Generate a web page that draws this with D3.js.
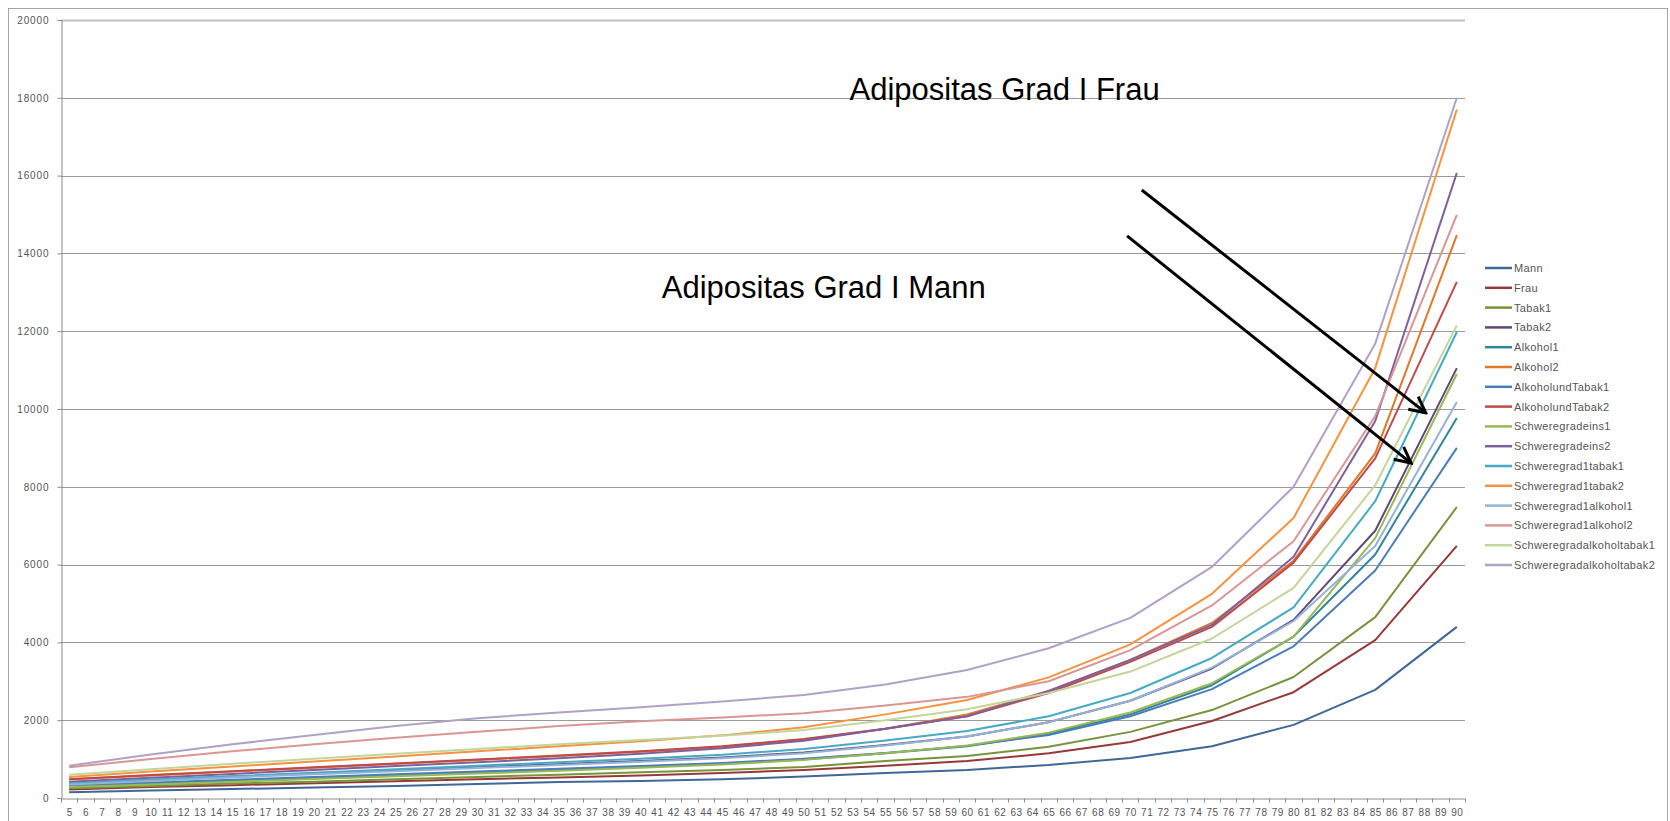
<!DOCTYPE html>
<html>
<head>
<meta charset="utf-8">
<script src="https://cdn.jsdelivr.net/npm/d3@7"></script>
<style>
  html, body { margin: 0; padding: 0; background: #ffffff; }
  svg { display: block; }
</style>
</head>
<body>
<svg id="chart" width="1670" height="821"></svg>
<script>
// ---------- DATA ----------
const ageLabels = [5,6,7,8,9,10,11,12,13,14,15,16,17,18,19,20,21,22,23,24,25,26,27,28,29,30,31,32,33,34,35,36,37,38,39,40,41,42,43,44,45,46,47,48,49,50,51,52,53,54,55,56,57,58,59,60,61,62,63,64,65,66,67,68,69,70,71,72,73,74,75,76,77,78,79,80,81,82,83,84,85,86,87,88,89,90];
const dataAges = [5,10,15,20,25,30,35,40,45,50,55,60,65,70,75,80,85,90];
const yTicks = [0,2000,4000,6000,8000,10000,12000,14000,16000,18000,20000];

const seriesNames = ["Mann","Frau","Tabak1","Tabak2","Alkohol1","Alkohol2","AlkoholundTabak1","AlkoholundTabak2","Schweregradeins1","Schweregradeins2","Schweregrad1tabak1","Schweregrad1tabak2","Schweregrad1alkohol1","Schweregrad1alkohol2","Schweregradalkoholtabak1","Schweregradalkoholtabak2"];
const seriesColors = ["#3F6797","#953A38","#77933C","#5F497A","#31859C","#E0772A","#4A7EBB","#BE4B48","#98B954","#7D60A0","#46AAC5","#F69240","#95B3D7","#D99694","#C2D69B","#B2A1C7"];

const mann        = [150,190,230,270,310,360,410,440,480,550,640,720,850,1030,1330,1880,2780,4400];
const frau        = [220,280,330,380,430,480,530,580,640,720,830,950,1150,1440,1980,2720,4060,6480];
const tabak1      = [250,310,370,420,480,540,600,660,720,800,950,1080,1320,1700,2260,3110,4650,7480];
const tabak2      = [380,470,550,630,710,790,870,950,1040,1170,1360,1580,1950,2500,3330,4580,6870,11050];
const alkohol1    = [300,380,450,520,590,660,730,800,880,990,1150,1330,1650,2150,2900,4150,6260,9770];
const alkohol2    = [480,580,680,780,880,980,1080,1190,1320,1500,1780,2150,2750,3550,4500,6100,8860,14470];
const alkTabak1   = [330,400,470,540,610,680,750,820,900,1010,1160,1340,1620,2100,2800,3900,5850,9000];
const alkTabak2   = [480,590,690,790,890,990,1090,1200,1330,1520,1780,2100,2700,3500,4400,6050,8730,13270];
const schwerEins1 = [280,350,420,490,560,630,700,780,860,980,1150,1350,1680,2200,2950,4150,6680,10900];
const schwerEins2 = [420,520,620,720,820,920,1020,1140,1280,1470,1780,2100,2750,3550,4450,6200,9690,16070];
const schwerTab1  = [380,470,560,650,740,830,920,1010,1110,1260,1480,1720,2100,2700,3600,4900,7630,11980];
const schwerTab2  = [540,680,810,940,1070,1200,1330,1460,1610,1820,2150,2520,3100,3950,5250,7200,11050,17700];
const schwerAlk1  = [350,440,530,610,690,770,850,930,1020,1150,1350,1580,1950,2500,3350,4550,6480,10180];
const schwerAlk2  = [790,1000,1200,1380,1550,1700,1850,1970,2070,2180,2380,2600,3000,3800,4950,6600,9820,14990];
const schwerAT1   = [600,740,880,1010,1140,1260,1380,1490,1600,1750,2000,2280,2700,3250,4100,5400,8040,12150];
const schwerAT2   = [830,1120,1380,1620,1850,2050,2200,2330,2480,2650,2920,3290,3850,4630,5940,8000,11680,18000];

const seriesValues = [mann,frau,tabak1,tabak2,alkohol1,alkohol2,alkTabak1,alkTabak2,schwerEins1,schwerEins2,schwerTab1,schwerTab2,schwerAlk1,schwerAlk2,schwerAT1,schwerAT2];

// annotations (in data space: age, value)
const annoTexts = ["Adipositas Grad I Frau","Adipositas Grad I Mann"];
const annoTextPos = [[52.8,17940],[41.3,12850]];
const arrowFrom = [[70.7,15630],[69.8,14450]];
const arrowTo = [[88.1,9900],[87.2,8610]];

// ---------- LAYOUT ----------
const svg = d3.select("#chart");
const plotL = 61, plotR = 1465, plotT = 20, plotB = 798;

const x = d3.scalePoint().domain(ageLabels).range([plotL, plotR]).padding(0.5);
const y = d3.scaleLinear().domain([0, 20000]).range([plotB, plotT]);
const xAt = a => x(ageLabels[0]) + (a - ageLabels[0]) * x.step();

// outer chart border
svg.append("rect").attr("x", 8.5).attr("y", 8.5).attr("width", 1659).attr("height", 820)
  .attr("fill", "#fff").attr("stroke", "#a6a6a6").attr("stroke-width", 1);

// gridlines
svg.append("g").selectAll("line").data(yTicks.filter(t => t > 0)).join("line")
  .attr("x1", plotL).attr("x2", plotR)
  .attr("y1", d => Math.round(y(d)) + 0.5).attr("y2", d => Math.round(y(d)) + 0.5)
  .attr("stroke", "#9a9a9a").attr("stroke-width", d => d === 20000 ? 2 : 1)
  .attr("opacity", d => d === 20000 ? 0.6 : 1);

// y axis
const yAxis = d3.axisLeft(y).tickValues(yTicks).tickSize(4).tickPadding(8).tickFormat(d3.format("d"));
const gy = svg.append("g").attr("transform", `translate(${plotL + 0.5},0)`).call(yAxis);
gy.select(".domain").attr("stroke", "#8c8c8c");
gy.selectAll(".tick line").attr("stroke", "#8c8c8c");
gy.selectAll(".tick text").attr("fill", "#555").style("font-family", "Liberation Sans, Arial, sans-serif")
  .style("font-size", "10px").style("letter-spacing", "0.9px");

// x axis
const xAxis = d3.axisBottom(x).tickSize(0).tickPadding(10);
const gx = svg.append("g").attr("transform", `translate(0,${plotB + 0.5})`).call(xAxis);
gx.select(".domain").attr("stroke", "#8c8c8c");
gx.selectAll(".tick text").attr("fill", "#555").style("font-family", "Liberation Sans, Arial, sans-serif")
  .style("font-size", "10px").style("letter-spacing", "0.5px");
// tick marks between categories
gx.append("g").selectAll("line").data(ageLabels.concat([null])).join("line")
  .attr("x1", (d, i) => Math.round(plotL + i * x.step()) + 0.5)
  .attr("x2", (d, i) => Math.round(plotL + i * x.step()) + 0.5)
  .attr("y1", 0).attr("y2", 4).attr("stroke", "#8c8c8c");

// series lines
const line = d3.line().x(d => x(d[0])).y(d => y(d[1]));
svg.append("g").selectAll("path").data(seriesValues).join("path")
  .attr("d", vals => line(vals.map((v, i) => [dataAges[i], v])))
  .attr("fill", "none")
  .attr("stroke", (d, i) => seriesColors[i])
  .attr("stroke-width", 2)
  .attr("stroke-linejoin", "round");

// legend
const legX = 1485, legY0 = 268, legStep = 19.8;
const leg = svg.append("g").selectAll("g").data(seriesNames).join("g")
  .attr("transform", (d, i) => `translate(${legX},${legY0 + i * legStep})`);
leg.append("line").attr("x1", 0).attr("x2", 27).attr("y1", 0).attr("y2", 0)
  .attr("stroke", (d, i) => seriesColors[i]).attr("stroke-width", 2.5);
leg.append("text").attr("x", 29).attr("y", 4).text(d => d)
  .attr("fill", "#555").style("font-family", "Liberation Sans, Arial, sans-serif")
  .style("font-size", "11px").style("letter-spacing", "0.35px");

// annotations
const defs = svg.append("defs");
defs.append("marker").attr("id", "arrowhead").attr("viewBox", "0 0 20 20")
  .attr("refX", 18).attr("refY", 10).attr("markerWidth", 20).attr("markerHeight", 20)
  .attr("markerUnits", "userSpaceOnUse").attr("orient", "auto")
  .append("path").attr("d", "M2,2 L18,10 L2,18").attr("fill", "none")
  .attr("stroke", "#000").attr("stroke-width", 3).attr("stroke-linejoin", "miter");

svg.append("g").selectAll("line").data(arrowFrom).join("line")
  .attr("x1", d => xAt(d[0])).attr("y1", d => y(d[1]))
  .attr("x2", (d, i) => xAt(arrowTo[i][0])).attr("y2", (d, i) => y(arrowTo[i][1]))
  .attr("stroke", "#000").attr("stroke-width", 3).attr("marker-end", "url(#arrowhead)");

svg.append("g").selectAll("text").data(annoTexts).join("text")
  .attr("x", (d, i) => xAt(annoTextPos[i][0])).attr("y", (d, i) => y(annoTextPos[i][1]))
  .text(d => d).attr("fill", "#000")
  .style("font-family", "Liberation Sans, Arial, sans-serif").style("font-size", "31px");
</script>
</body>
</html>
